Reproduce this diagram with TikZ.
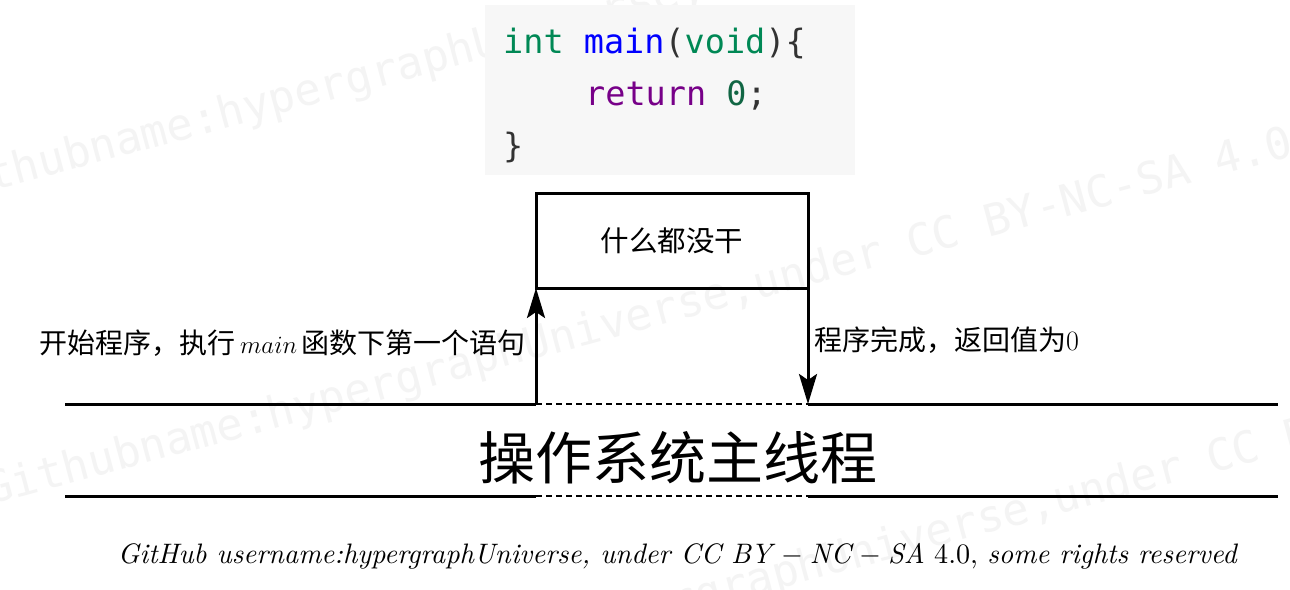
\documentclass[tikz,border=0pt]{standalone}
\usepackage{fontspec}
\usepackage{graphicx}
\usetikzlibrary{arrows.meta}
\newfontfamily\cjk{Noto Sans CJK SC}
\newfontfamily\codefont{DejaVu Sans Mono}
\definecolor{codebg}{HTML}{F7F7F7}
\definecolor{ctype}{HTML}{008855}
\definecolor{cdef}{HTML}{0000FF}
\definecolor{ckey}{HTML}{770088}
\definecolor{cnum}{HTML}{116644}
\definecolor{cpunct}{HTML}{333333}
\definecolor{wmgray}{HTML}{F4F4F4}
\tikzset{
  code/.style={anchor=base west, inner sep=0pt, font=\codefont\fontsize{33.5}{33.5}\selectfont},
  lbl/.style={inner sep=0pt, font=\cjk\fontsize{28}{28}\selectfont},
  thick3/.style={line width=3pt},
  dashline/.style={line width=1.2pt, dash pattern=on 6pt off 4pt},
  arr/.style={line width=3pt, -{Stealth[length=30pt, width=18pt, inset=6pt]}},
  wm/.style={anchor=base west, inner sep=0pt, rotate=15, text=wmgray, font=\codefont\fontsize{44}{44}\selectfont},
}
\begin{document}
\begin{tikzpicture}[x=1pt, y=-1pt]
\useasboundingbox (0,0) rectangle (1290,589);
\fill[white] (0,0) rectangle (1290,589);
% watermark
\node[wm] (wma) at (-60,205) {Githubname:hypergraphUniverse,under CC BY-NC-SA 4.0};
\node[wm] (wmb) at (-10,505) {Githubname:hypergraphUniverse,under CC BY-NC-SA 4.0};
\node[wm] (wmc) at (290,720) {Githubname:hypergraphUniverse,under CC BY-NC-SA 4.0};
% code box
\node[fill=codebg, minimum width=370pt, minimum height=170pt, inner sep=0pt, anchor=north west] (codebox) at (485,5) {};
\node[code] (c1) at (503,53) {\textcolor{ctype}{int} \textcolor{cdef}{main}\textcolor{cpunct}{(}\textcolor{ctype}{void}\textcolor{cpunct}{)\{}};
\node[code] (c2) at (585,105) {\textcolor{ckey}{return} \textcolor{cnum}{0}\textcolor{cpunct}{;}};
\node[code] (c3) at (503,157) {\textcolor{cpunct}{\}}};
% box
\node[draw, thick3, minimum width=272pt, minimum height=95pt, inner sep=0pt, outer sep=0pt, lbl, font=\cjk\fontsize{28.5}{28.5}\selectfont] (box) at (672,240.5) {什么都没干};
% thread lines
\coordinate (ta) at (65,404);
\coordinate (tb) at (536,404);
\coordinate (tc) at (808,404);
\coordinate (td) at (1278,404);
\coordinate (ba) at (65,496);
\coordinate (bb) at (536,496);
\coordinate (bc) at (808,496);
\coordinate (bd) at (1278,496);
\draw[thick3] (ta) -- (tb);
\draw[dashline] (tb) -- (tc);
\draw[thick3] (tc) -- (td);
\draw[thick3] (ba) -- (bb);
\draw[dashline] (bb) -- (bc);
\draw[thick3] (bc) -- (bd);
% arrows
\draw[arr] (tb) -- (box.south west);
\draw[arr] (box.south east) -- (tc);
% labels
\node[lbl, anchor=east] (l1) at (526,343) {开始程序，执行\,$main$\,函数下第一个语句};
\node[lbl, anchor=west] (l2) at (814,340) {程序完成，返回值为{\rmfamily 0}};
\node[inner sep=0pt, font=\cjk\fontsize{57}{57}\selectfont] (os) at (678,458) {操作系统主线程};
% footer
\node[inner sep=0pt, anchor=base] (foot) at (678,563) {\resizebox{1120pt}{!}{\textit{GitHub username:hypergraphUniverse, under CC BY}${}-{}$\textit{NC}${}-{}$\textit{SA} 4.0, \textit{some rights reserved}}};
\end{tikzpicture}
\end{document}
